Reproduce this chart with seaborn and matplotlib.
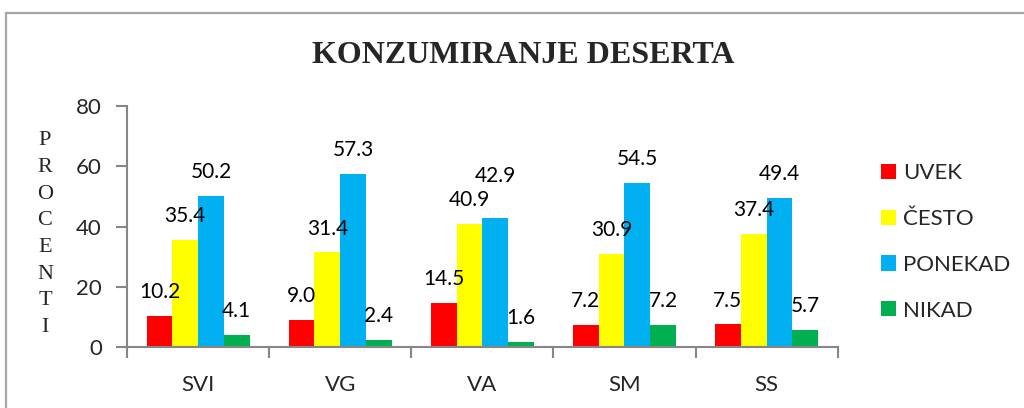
import pandas as pd
import matplotlib.pyplot as plt
import seaborn as sns
from matplotlib.lines import Line2D

# ---------------------------
# Data
# ---------------------------
groups = ['SVI', 'VG', 'VA', 'SM', 'SS']
answers = ['UVEK', 'ČESTO', 'PONEKAD', 'NIKAD']
uvek = [10.2, 9.0, 14.5, 7.2, 7.5]
cesto = [35.4, 31.4, 40.9, 30.9, 37.4]
ponekad = [50.2, 57.3, 42.9, 54.5, 49.4]
nikad = [4.1, 2.4, 1.6, 7.2, 5.7]
colors = ['#FF0000', '#FFFF00', '#00B0F0', '#00B050']

df = pd.DataFrame({
    'grupa': groups * 4,
    'odgovor': [a for a in answers for _ in groups],
    'procenat': uvek + cesto + ponekad + nikad,
})

sns.set_theme(style='white')
plt.rcParams['font.family'] = ['Lato', 'DejaVu Sans']

axis_gray = '#868686'
label_pad = 10

fig = plt.figure(figsize=(10.24, 4.08), dpi=100)
ax = fig.add_axes([0.124, 0.1495, 0.694, 0.5907])

sns.barplot(data=df, x='grupa', y='procenat', hue='odgovor', hue_order=answers,
            order=groups, palette=colors, width=0.725, gap=0, saturation=1,
            edgecolor='none', linewidth=0, ax=ax)

bar_labels = []
for cont in ax.containers:
    bar_labels.append(ax.bar_label(cont, fmt='%.1f', padding=label_pad,
                                   fontsize=15, color='black'))

# the PONEKAD label in VA sits higher so it clears the ČESTO label
bar_labels[answers.index('PONEKAD')][groups.index('VA')].xyann = (0, label_pad + 13)

ax.set_ylim(0, 80)
ax.set_xlim(-0.5, len(groups) - 0.5)
ax.set_yticks([0, 20, 40, 60, 80])
ax.set_xlabel('')
ax.set_ylabel('')

# category labels centred, ticks at the group boundaries
ax.set_xticks(range(len(groups)))
ax.set_xticks([i - 0.5 for i in range(len(groups) + 1)], minor=True)
ax.tick_params(axis='x', which='major', length=0, pad=20, labelsize=16)
ax.tick_params(axis='x', which='minor', length=8, width=1.5, color=axis_gray,
               direction='out', bottom=True)
ax.tick_params(axis='y', length=8, width=1.5, color=axis_gray, direction='out',
               left=True, pad=10, labelsize=16)

for side in ['top', 'right']:
    ax.spines[side].set_visible(False)
for side in ['left', 'bottom']:
    ax.spines[side].set_color(axis_gray)
    ax.spines[side].set_linewidth(1.5)

ax.legend(loc='upper left', bbox_to_anchor=(0.860, 0.600),
          bbox_transform=fig.transFigure, frameon=False, fontsize=16,
          handlelength=0.68, handleheight=0.68, handletextpad=0.33,
          labelspacing=1.16, borderpad=0, borderaxespad=0, title=None)

fig.text(0.511, 0.865, 'KONZUMIRANJE DESERTA', ha='center', va='center',
         fontsize=23, fontweight='bold', family='Liberation Serif')
fig.text(0.044, 0.426, '\n'.join('PROCENTI'), ha='center', va='center',
         fontsize=16, family='Liberation Serif', linespacing=1.55)

# outer chart frame (top and left edges visible)
frame_kw = dict(color='#A6A6A6', linewidth=1.6, transform=fig.transFigure)
fig.add_artist(Line2D([0.006, 1.0], [0.968, 0.968], **frame_kw))
fig.add_artist(Line2D([0.006, 0.006], [0.968, 0.0], **frame_kw))

fig.savefig('out.png', dpi=100)
